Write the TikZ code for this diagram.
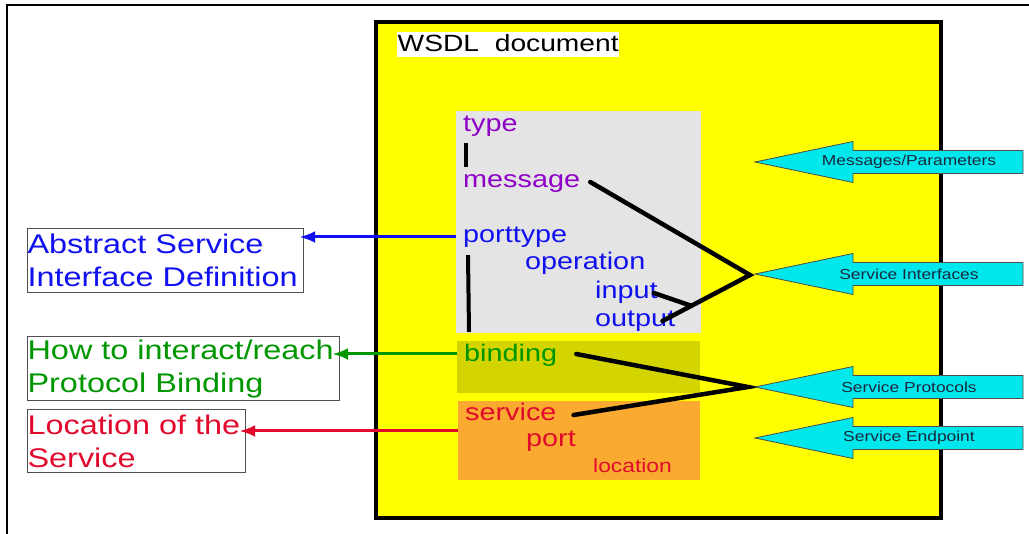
\documentclass[tikz,border=0pt]{standalone}
\usepackage{fontspec}
\newfontfamily\wide[FakeStretch=1.2]{Liberation Sans}
\usetikzlibrary{arrows.meta,calc}
\definecolor{docyellow}{RGB}{255,255,0}
\definecolor{typegray}{RGB}{228,228,228}
\definecolor{bindolive}{RGB}{212,212,0}
\definecolor{servorange}{RGB}{250,170,48}
\definecolor{tagpurple}{RGB}{142,0,200}
\definecolor{tagblue}{RGB}{16,16,240}
\definecolor{taggreen}{RGB}{0,150,0}
\definecolor{tagred}{RGB}{225,10,45}
\definecolor{hintcyan}{RGB}{0,232,236}
\definecolor{boxgray}{RGB}{80,80,80}
\definecolor{hintink}{RGB}{25,40,60}

\tikzset{
	tag/.style={inner sep=0, anchor=base west, font=\wide\fontsize{24}{28}\selectfont, text height=17pt, text depth=5pt},
	smalltag/.style={tag, font=\wide\fontsize{19}{22}\selectfont, text height=14pt, text depth=4pt},
	link/.style={line width=4.5pt, line cap=round},
	infobox/.style={draw=boxgray, line width=1.2pt, anchor=north west, inner xsep=0, inner ysep=0, align=left, font=\wide\fontsize{27}{33}\selectfont},
	pointer/.style={line width=3pt, -{Latex[length=16pt,width=12pt]}},
	hintarrow/.style={fill=hintcyan, draw=black!70, line width=0.8pt},
	hint/.style={font=\wide\fontsize{14.5}{17}\selectfont, text=hintink, inner sep=0}
}

\begin{document}
\begin{tikzpicture}[x=1pt,y=-1pt]
	\useasboundingbox (0,0) rectangle (1029,534);
	% outer frame
	\draw[line width=1.2pt] (1029,5) -- (7,5) -- (7,534);
	% WSDL document
	\draw[fill=docyellow, line width=3.5pt] (376,22) rectangle (941,518);
	\node[fill=white, inner xsep=0.5pt, inner ysep=0, anchor=base west, text height=20pt, text depth=5pt, font=\wide\fontsize{23.5}{28}\selectfont] (wsdl) at (397,52) {WSDL\ \ document};
	\fill[typegray] (456,111) rectangle (701,333);
	\fill[bindolive] (457,341) rectangle (700,393);
	\fill[servorange] (458,401) rectangle (700,480);

	% element names
	\node[tag, text=tagpurple] (type) at (463,132) {type};
	\node[tag, text=tagpurple] (message) at (463,188) {message};
	\node[tag, text=tagblue] (porttype) at (463,243) {porttype};
	\node[tag, text=tagblue] (operation) at (525,270) {operation};
	\node[tag, text=tagblue] (input) at (595,299) {input};
	\node[tag, text=tagblue] (output) at (595,327) {output};
	\node[tag, text=taggreen] (binding) at (464,362) {binding};
	\node[tag, text=tagred] (service) at (465,421) {service};
	\node[tag, text=tagred] (port) at (526,447) {port};
	\node[smalltag, text=tagred] (location) at (593,473) {location};

	\draw[line width=4pt] ([xshift=3pt,yshift=-6pt]type.south west) -- ([xshift=3pt,yshift=4pt]message.north west);
	\draw[line width=4pt] ([xshift=5pt,yshift=-7pt]porttype.south west) -- ([xshift=5pt,yshift=13pt]binding.north west);

	% groupings
	\coordinate (ifhub) at (750,275);
	\coordinate (prothub) at (748,387);
	\draw[link] ([xshift=10pt]message.east) -- (ifhub) -- ([xshift=-13pt]output.east);
	\draw[link] ([xshift=-4pt]input.east) -- ($([xshift=-13pt]output.east)!0.33!(ifhub)$);
	\draw[link] ([xshift=19pt,yshift=2pt]binding.east) -- (prothub) -- ([xshift=17pt]service.east);

	% explanations on the left
	\node[infobox, text=tagblue, text width=276pt, minimum height=64pt] (abstract) at (27,228) {Abstract~Service\\Interface~Definition};
	\node[infobox, text=taggreen, text width=312pt, minimum height=64pt] (howto) at (27,336) {How~to~interact/reach\\Protocol~Binding};
	\node[infobox, text=tagred, text width=218pt, minimum height=63pt] (where) at (27,409) {Location~of~the\\Service};

	\draw[pointer, tagblue] ([xshift=-7pt]porttype.west) -- ([xshift=-5pt]abstract.east |- porttype.west);
	\draw[pointer, taggreen] ([xshift=-7pt,yshift=2pt]binding.west) -- ([xshift=-8pt,yshift=2pt]howto.east |- binding.west);
	\coordinate (servleft) at (458,431);
	\draw[pointer, tagred] (servleft) -- ([xshift=-7pt]where.east |- servleft);

	% cyan arrows on the right
	\foreach \y/\txt [count=\i] in {162/{Messages/Parameters}, 274/{Service Interfaces}, 387/{Service Protocols}, 438/{Service Endpoint}} {
		\draw[hintarrow] (755,\y) -- (853,\y-20.5) -- (853,\y-11.5) -- (1023,\y-11.5) -- (1023,\y+11.5) -- (853,\y+11.5) -- (853,\y+20.5) -- cycle;
		\node[hint] (hint\i) at (909,\y) {\txt};
	}
\end{tikzpicture}
\end{document}
